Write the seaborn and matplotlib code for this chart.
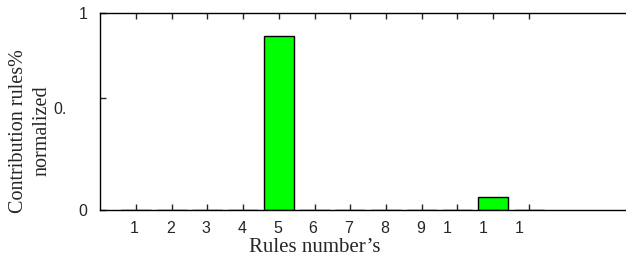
import matplotlib
matplotlib.use("Agg")
import matplotlib.pyplot as plt
import pandas as pd
import seaborn as sns

# valeurs
rules = [1, 2, 3, 4, 5, 6, 7, 8, 9, 10, 11, 12]
contribution = [0.0, 0.0, 0.0, 0.0, 0.88, 0.0, 0.0, 0.0, 0.0, 0.0, 0.068, 0.0]
xtick_labels = ["1", "2", "3", "4", "5", "6", "7", "8", "9", "1", "1", "1"]
ytick_values = [0, 0.566, 1]
ytick_labels = ["0", "0.", "1"]

df = pd.DataFrame({"rule": rules, "contribution": contribution})

sns.set_style("ticks")
plt.rcParams["font.family"] = ["Liberation Sans", "DejaVu Sans"]
serif = ["Liberation Serif", "DejaVu Serif"]

fig = plt.figure(figsize=(6.26, 2.56), dpi=100)
ax = fig.add_axes([0.16, 0.18, 0.856, 0.77])

sns.barplot(data=df, x="rule", y="contribution", order=rules, color="#00ff00",
            edgecolor="black", linewidth=1, width=0.84, saturation=1, ax=ax)

ax.set_xlim(-1, 14)
ax.set_ylim(0, 1)

# graduations sans texte, textes portes par les graduations mineures (decalees)
pos = list(range(len(rules)))
ax.set_xticks(pos)
ax.set_xticklabels([""] * len(pos))
pos_lab = [p - 0.04 if p < 9 else p - 0.28 for p in pos]
ax.set_xticks(pos_lab, minor=True)
ax.set_xticklabels(xtick_labels, minor=True, fontsize=11.5)

ax.set_yticks(ytick_values)
ax.set_yticklabels([ytick_labels[0], "", ytick_labels[2]], fontsize=11.5)
ax.set_yticks([ytick_values[1] - 0.05], minor=True)
ax.set_yticklabels([ytick_labels[1]], minor=True, fontsize=11.5)

ax.tick_params(which="major", direction="in", length=4, width=1, top=True, right=True)
ax.tick_params(which="minor", length=0, top=False, right=False)
ax.tick_params(axis="x", which="both", pad=8)
ax.tick_params(axis="y", which="major", pad=9)
ax.tick_params(axis="y", which="minor", pad=24)
for s in ax.spines.values():
    s.set_linewidth(1)
    s.set_color("black")

ax.set_xlabel("Rules number\u2019s", fontsize=15, family=serif)
ax.xaxis.set_label_coords(0.40, -0.14)
ax.set_ylabel("Contribution rules%\nnormalized", fontsize=14.5, family=serif, linespacing=1.35)
ax.yaxis.set_label_coords(-0.09, 0.40)

plt.savefig("out.png", dpi=100)
